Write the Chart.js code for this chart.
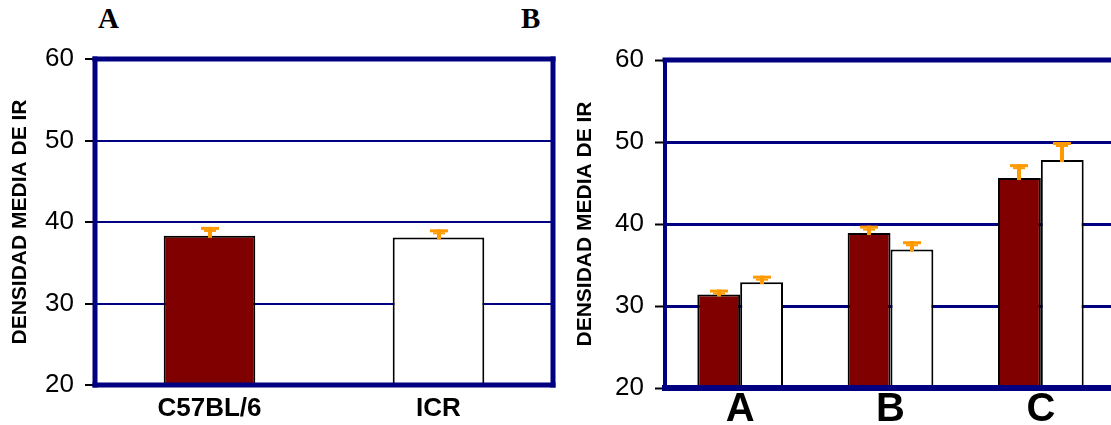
<!DOCTYPE html>
<html>
<head>
<meta charset="utf-8">
<script src="https://cdn.jsdelivr.net/npm/chart.js@4"></script>
<style>
  html, body { margin: 0; padding: 0; background: #fff; overflow: hidden; width: 1111px; height: 425px; }
  .panel { position: absolute; top: 0; }
  .tag { position: absolute; font: bold 29px "Liberation Serif", serif; line-height: 29px; color: #000; }
</style>
</head>
<body>
<div class="tag" style="left:98px; top:4px;">A</div>
<div class="tag" style="left:521px; top:4px;">B</div>
<canvas id="chartA" class="panel" style="left:0px;" width="560" height="425"></canvas>
<canvas id="chartB" class="panel" style="left:560px;" width="560" height="425"></canvas>
<script>
// panel A
const strainLabels = ['C57BL/6', 'ICR'];
const strainMeans = [38.3, 38.1];
const strainErrors = [1.1, 1.0];

// panel B
const groupLabels = ['A', 'B', 'C'];
const darkMeans = [31.4, 38.9, 45.6];
const darkErrors = [0.6, 0.9, 1.7];
const whiteMeans = [32.9, 36.9, 47.8];
const whiteErrors = [0.8, 1.0, 2.2];

const yTicks = [20, 30, 40, 50, 60];

const NAVY = '#000080';
const ORANGE = '#ff9900';
const MAROON = '#800000';

// orange error caps, drawn above each bar
const errorBars = {
    id: 'errorBars',
    afterDatasetsDraw(chart) {
        const ctx = chart.ctx;
        const y = chart.scales.y;
        ctx.save();
        ctx.fillStyle = ORANGE;
        chart.data.datasets.forEach((ds, i) => {
            const meta = chart.getDatasetMeta(i);
            meta.data.forEach((bar, j) => {
                const top = y.getPixelForValue(ds.data[j] + ds.errors[j]);
                const x = Math.round(bar.x);
                ctx.fillRect(x - 9, top, 18, 3);
                ctx.fillRect(x - 6, top + 3, 12, 2);
                ctx.fillRect(x - 2, top, 4, bar.y - top + 2);
            });
        });
        ctx.restore();
    }
};

// thick navy frame round the plot area
function framePlugin(sides) {
    return {
        id: 'frame',
        afterDraw(chart) {
            const a = chart.chartArea;
            const ctx = chart.ctx;
            ctx.save();
            ctx.strokeStyle = NAVY;
            ctx.lineCap = 'square';
            const line = (w, x1, y1, x2, y2) => {
                ctx.lineWidth = w;
                ctx.beginPath();
                ctx.moveTo(x1, y1);
                ctx.lineTo(x2, y2);
                ctx.stroke();
            };
            line(sides.left, a.left, a.top, a.left, a.bottom);
            line(sides.top, a.left, a.top, a.right, a.top);
            line(sides.right, a.right, a.top, a.right, a.bottom);
            line(sides.bottom, a.left, a.bottom, a.right, a.bottom);
            ctx.restore();
        }
    };
}

function yScale(axisWidth, titlePad, gridWidth) {
    return {
        min: 20,
        max: 60,
        afterFit: s => { s.width = axisWidth; },
        afterBuildTicks: s => { s.ticks = yTicks.map(v => ({ value: v })); },
        border: { display: false },
        grid: {
            color: NAVY,
            lineWidth: gridWidth,
            drawTicks: true,
            tickLength: 10,
            tickColor: '#000',
            tickWidth: 2
        },
        ticks: {
            color: '#000',
            padding: 11,
            font: { family: '"Liberation Sans", Arial, sans-serif', size: 26 }
        },
        title: {
            display: true,
            text: 'DENSIDAD MEDIA DE IR',
            color: '#000',
            padding: { top: titlePad, bottom: 0 },
            font: { family: '"Liberation Sans", Arial, sans-serif', size: 21, weight: 'bold' }
        }
    };
}

function xScale(axisHeight, fontSize, pad) {
    return {
        afterFit: s => { s.height = axisHeight; },
        border: { display: false },
        grid: { display: false, drawTicks: false },
        ticks: {
            color: '#000',
            padding: pad,
            autoSkip: false,
            maxRotation: 0,
            font: { family: '"Liberation Sans", Arial, sans-serif', size: fontSize, weight: 'bold' }
        }
    };
}

const chartA = new Chart(document.getElementById('chartA').getContext('2d'), {
    type: 'bar',
    data: {
        labels: strainLabels,
        datasets: [{
            data: strainMeans,
            errors: strainErrors,
            backgroundColor: [MAROON, '#ffffff'],
            borderColor: '#000',
            borderWidth: 2,
            barPercentage: 0.4,
            categoryPercentage: 1.0
        }]
    },
    options: {
        responsive: false,
        animation: false,
        devicePixelRatio: 1,
        layout: { padding: { left: 0, right: 7, top: 59, bottom: 0 } },
        plugins: { legend: { display: false }, tooltip: { enabled: false } },
        scales: {
            x: xScale(40, 26, 8),
            y: yScale(95, 8, 2)
        }
    },
    plugins: [errorBars, framePlugin({ left: 5, top: 5, right: 5, bottom: 5 })]
});

const chartB = new Chart(document.getElementById('chartB').getContext('2d'), {
    type: 'bar',
    data: {
        labels: groupLabels,
        datasets: [{
            data: darkMeans,
            errors: darkErrors,
            backgroundColor: MAROON,
            borderColor: '#000',
            borderWidth: 2,
            barPercentage: 1.0,
            categoryPercentage: 0.57
        }, {
            data: whiteMeans,
            errors: whiteErrors,
            backgroundColor: '#ffffff',
            borderColor: '#000',
            borderWidth: 2,
            barPercentage: 1.0,
            categoryPercentage: 0.57
        }]
    },
    options: {
        responsive: false,
        animation: false,
        devicePixelRatio: 1,
        layout: { padding: { left: 0, right: 4, top: 60, bottom: 0 } },
        plugins: { legend: { display: false }, tooltip: { enabled: false } },
        scales: {
            x: xScale(37, 40, -2),
            y: yScale(105, 13, 3)
        }
    },
    plugins: [errorBars, framePlugin({ left: 4, top: 5, right: 5, bottom: 6 })]
});
</script>
</body>
</html>
